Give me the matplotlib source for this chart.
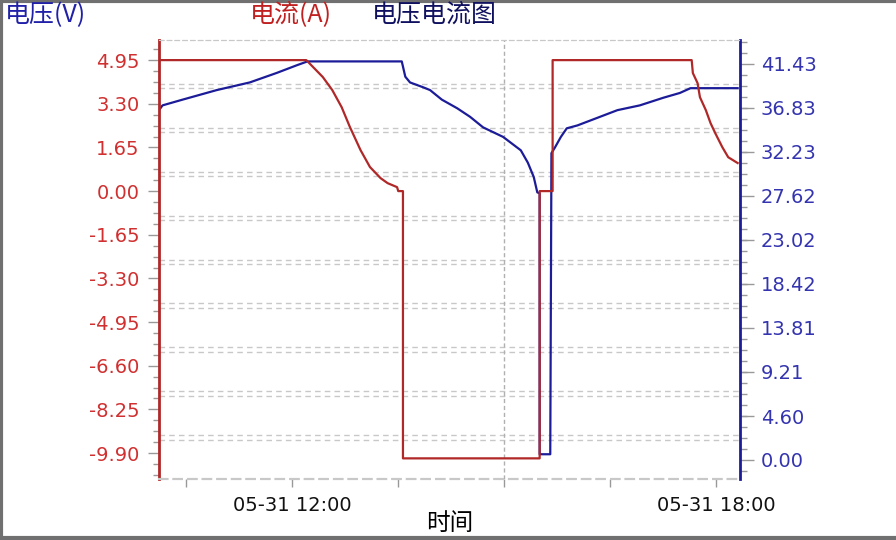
import numpy as np
import pandas as pd
import matplotlib
matplotlib.use("Agg")
import matplotlib.pyplot as plt
import matplotlib.dates as mdates
from matplotlib.ticker import MultipleLocator, FuncFormatter
from matplotlib.lines import Line2D

plt.rcParams['font.family'] = ['DejaVu Sans', 'Noto Sans CJK SC']

day = "2023-05-31 "

# current (A), left axis
cur_t = ["10:07", "12:12", "12:26", "12:34", "12:42", "12:49", "12:58", "13:06", "13:15",
         "13:21", "13:29", "13:30", "13:34", "13:34", "15:30", "15:30", "15:41", "15:41",
         "17:39", "17:40", "17:44", "17:46", "17:51", "17:55", "17:59", "18:05", "18:10", "18:18"]
cur_v = [4.95, 4.95, 4.31, 3.82, 3.17, 2.42, 1.55, 0.91, 0.49,
         0.30, 0.15, 0.0, 0.0, -10.1, -10.1, 0.0, 0.0, 4.95,
         4.95, 4.46, 4.08, 3.55, 3.06, 2.57, 2.19, 1.66, 1.28, 1.06]

# voltage (V), right axis
volt_t = ["10:07", "10:10", "10:27", "10:56", "11:24", "11:47", "12:04", "12:13", "13:33",
          "13:36", "13:40", "13:51", "13:57", "14:07", "14:20", "14:31", "14:42", "14:59",
          "15:14", "15:20", "15:25", "15:28", "15:30", "15:30", "15:39", "15:40", "15:43",
          "15:48", "15:53", "16:02", "16:19", "16:36", "16:55", "17:15", "17:29", "17:38", "18:18"]
volt_v = [36.6, 37.1, 37.7, 38.7, 39.5, 40.5, 41.3, 41.7, 41.7,
          40.1, 39.5, 39.0, 38.7, 37.7, 36.8, 35.9, 34.8, 33.8,
          32.4, 31.1, 29.6, 28.0, 27.9, 0.6, 0.6, 32.1, 32.7,
          33.8, 34.7, 35.0, 35.8, 36.6, 37.1, 37.9, 38.4, 38.9, 38.9]

left_ticks = [-9.90, -8.25, -6.60, -4.95, -3.30, -1.65, 0.00, 1.65, 3.30, 4.95]
right_ticks = [0.00, 4.60, 9.21, 13.81, 18.42, 23.02, 27.62, 32.23, 36.83, 41.43]

cur_x = pd.to_datetime([day + t for t in cur_t])
volt_x = pd.to_datetime([day + t for t in volt_t])

red = '#b02828'
blue = '#1c1c98'
red_txt = '#d03030'
blue_txt = '#3434b0'

fig = plt.figure(figsize=(8.96, 5.4), dpi=100)
ax = fig.add_axes([159/896, 61/540, 581/896, 439/540])
ax2 = ax.twinx()

ax.plot(cur_x, cur_v, color=red, lw=1.6, zorder=3)
ax2.plot(volt_x, volt_v, color=blue, lw=1.6, zorder=3)
ax.set_zorder(ax2.get_zorder() + 1)
ax.patch.set_visible(False)

ax.set_xlim(pd.Timestamp(day + "10:07"), pd.Timestamp(day + "18:20"))
ax.set_ylim(-10.88, 5.71)
ax2.set_ylim(-1.99, 43.94)

# double dashed grid
fr = np.arange(1, 10) / 10
ax2.hlines(fr, 0, 1, transform=ax2.transAxes, color='#c8c8c8', lw=1, ls=(0, (4, 3)), zorder=1)
ax2.hlines(fr - 4.5/439, 0, 1, transform=ax2.transAxes, color='#c8c8c8', lw=1, ls=(0, (4, 3)), zorder=1)
ax2.axvline(pd.Timestamp(day + "15:00"), color='#b0b0b0', lw=1, ls=(0, (3, 2)), zorder=1)

# left axis
ax.set_yticks(left_ticks)
ax.yaxis.set_major_formatter(FuncFormatter(lambda v, p: f"{v:.2f}"))
ax.yaxis.set_minor_locator(MultipleLocator(1.65/4))
ax.tick_params(axis='y', which='major', colors='#999999', labelcolor=red_txt, length=8, width=1,
               labelsize=14, pad=6)
ax.tick_params(axis='y', which='minor', colors='#999999', length=4, width=1)

# right axis
ax2.set_yticks(right_ticks)
ax2.yaxis.set_major_formatter(FuncFormatter(lambda v, p: f"{v:.2f}"))
ax2.yaxis.set_minor_locator(MultipleLocator(4.6033/4))
ax2.tick_params(axis='y', which='major', colors='#999999', labelcolor=blue_txt, length=10, width=1,
                labelsize=14, pad=5)
ax2.tick_params(axis='y', which='minor', colors='#999999', length=5, width=1)

# x axis
xt = pd.date_range(day + "10:30", day + "18:00", freq="90min")
ax.set_xticks(xt)
def xfmt(v, p):
    d = mdates.num2date(v)
    if d.minute == 0 and d.hour in (12, 18):
        return d.strftime("%m-%d %H:%M")
    return ""
ax.xaxis.set_major_formatter(FuncFormatter(xfmt))
ax.tick_params(axis='x', colors='#999999', labelcolor='#111111', length=6, width=1,
               labelsize=14, pad=6)
ax2.tick_params(axis='x', length=0)
ax.set_xlabel("时间", fontsize=17, family=['Noto Sans CJK SC'], labelpad=-2)

for a in (ax, ax2):
    a.spines['top'].set_color('#c8c8c8')
    a.spines['top'].set_linestyle((0, (4, 3)))
    a.spines['bottom'].set_color('#c8c8c8')
    a.spines['bottom'].set_linestyle((0, (4, 3)))
    a.spines['bottom'].set_linewidth(1.5)
ax.spines['left'].set_color(red)
ax.spines['left'].set_linewidth(2)
ax.spines['right'].set_visible(False)
ax2.spines['right'].set_color(blue)
ax2.spines['right'].set_linewidth(2)
ax2.spines['left'].set_visible(False)

cjk = ['Noto Sans CJK SC', 'DejaVu Sans']
fig.text(5/896, 1 - 15/540, "电压(V)", color='#2020a8', fontsize=18, va='center', family=cjk)
fig.text(250/896, 1 - 15/540, "电流(A)", color='#c02020', fontsize=18, va='center', family=cjk)
fig.text(372/896, 1 - 15/540, "电压电流图", color='#101060', fontsize=18, va='center', family=cjk)

# figure frame (left, top, bottom)
for xs, ys in (([0.001, 0.001], [0, 1]), ([0, 1], [0.998, 0.998]), ([0, 1], [0.003, 0.003])):
    fig.add_artist(Line2D(xs, ys, transform=fig.transFigure, color='#707070', lw=3))

fig.savefig("out.png", dpi=100)
